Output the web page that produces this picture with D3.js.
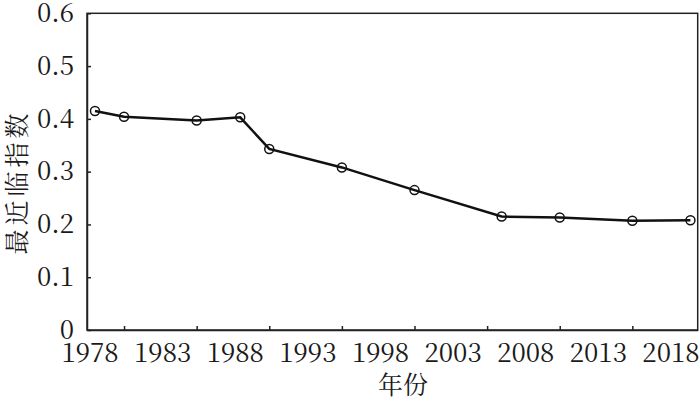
<!DOCTYPE html>
<html><head><meta charset="utf-8">
<script src="https://cdn.jsdelivr.net/npm/d3@7"></script>
<style>body{margin:0;background:#fff}svg{display:block}</style>
</head><body>
<script>
const years = [1978, 1980, 1985, 1988, 1990, 1995, 2000, 2006, 2010, 2015, 2019];
const values = [0.415, 0.404, 0.397, 0.403, 0.343, 0.308, 0.265, 0.215, 0.213, 0.207, 0.208];
const tickYears = [1980, 1985, 1990, 1995, 2000, 2005, 2010, 2015];
const xLabels = ["1978", "1983", "1988", "1993", "1998", "2003", "2008", "2013", "2018"];
const yTicks = [0, 0.1, 0.2, 0.3, 0.4, 0.5, 0.6];
const xTitle = "年份";
const yTitle = "最近临指数";

const W = 700, H = 401;
const m = {l: 87, r: 2.3, t: 13.3, b: 71};
const FONT = '"Noto Serif CJK SC", "DejaVu Serif", serif';
const svg = d3.select("body").append("svg").attr("width", W).attr("height", H);
const x = d3.scaleLinear().domain([1977.45, 2019.5]).range([m.l, W - m.r]);
const y = d3.scaleLinear().domain([0, 0.6]).range([H - m.b, m.t]);

// frame
svg.append("rect").attr("x", m.l).attr("y", m.t)
  .attr("width", W - m.r - m.l).attr("height", H - m.b - m.t)
  .attr("fill", "none").attr("stroke", "#222").attr("stroke-width", 1.5);

// y axis
const ya = svg.append("g").attr("transform", `translate(${m.l},0)`)
  .call(d3.axisLeft(y).tickValues(yTicks).tickSizeInner(-4).tickSizeOuter(0)
    .tickFormat(d => d === 0 ? "0" : d3.format(".1f")(d)).tickPadding(13));
ya.select(".domain").attr("stroke", "#222").attr("stroke-width", 1.5);
ya.selectAll(".tick line").attr("stroke", "#222").attr("stroke-width", 1.5);
ya.selectAll("text").style("font-family", FONT).style("font-size", "26px").attr("fill", "#1a1a1a");

// x axis ticks
const xa = svg.append("g").attr("transform", `translate(0,${H - m.b})`)
  .call(d3.axisBottom(x).tickValues(tickYears).tickSizeInner(-4).tickSizeOuter(0).tickFormat(""));
xa.select(".domain").attr("stroke", "#222").attr("stroke-width", 1.5);
xa.selectAll(".tick line").attr("stroke", "#222").attr("stroke-width", 1.5);

// x labels (placed between ticks as in the original)
svg.append("g").selectAll("text").data(xLabels).join("text")
  .attr("x", (d, i) => x(1980 + 5 * i) - 34)
  .attr("y", 362)
  .attr("text-anchor", "middle")
  .style("font-family", FONT).style("font-size", "26px").attr("fill", "#1a1a1a")
  .text(d => d);

// line
const line = d3.line().x((d, i) => x(years[i])).y(d => y(d));
svg.append("path").datum(values).attr("d", line)
  .attr("fill", "none").attr("stroke", "#111").attr("stroke-width", 2.5);
svg.append("g").selectAll("circle").data(values).join("circle")
  .attr("cx", (d, i) => x(years[i])).attr("cy", d => y(d)).attr("r", 4.5)
  .attr("fill", "none").attr("stroke", "#111").attr("stroke-width", 1.5);

// titles
svg.append("text").attr("x", 403).attr("y", 394).attr("text-anchor", "middle")
  .style("font-family", FONT).style("font-size", "25px").attr("fill", "#1a1a1a").text(xTitle);
svg.append("text").attr("transform", "translate(26,182) rotate(-90)").attr("text-anchor", "middle")
  .style("font-family", FONT).style("font-size", "25px").attr("letter-spacing", 4).attr("fill", "#1a1a1a").text(yTitle);
</script>
</body></html>
